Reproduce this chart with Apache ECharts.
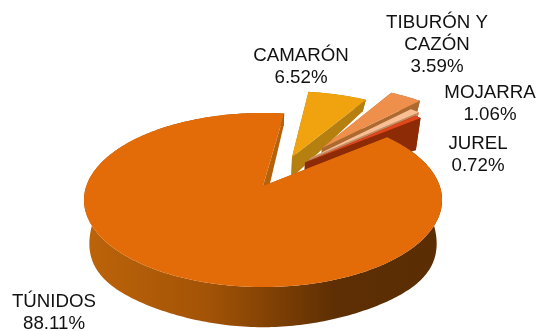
<!DOCTYPE html>
<html>
<head>
<meta charset="utf-8">
<style>
  html, body { margin: 0; padding: 0; background: #fff; }
  #chart { width: 539px; height: 331px; }
</style>
<script src="https://cdn.jsdelivr.net/npm/echarts@6/dist/echarts.min.js"></script>
</head>
<body>
<div id="chart"></div>
<script>
var labels = ['CAMARÓN', 'TIBURÓN Y\nCAZÓN', 'MOJARRA', 'JUREL', 'TÚNIDOS'];
var values = [6.52, 3.59, 1.06, 0.72, 88.11];

var topColors = ['#f0a30e', '#ee8f4c', '#f8bf94', '#e0471a', '#e36c09'];
var wallColors = ['#b5800f', '#ad6a30', '#c48a60', '#8c2b06', '#b5620c'];
// exploded offset of each slice, in unit-circle space
var shiftU = [0.174, 0.36, 0.28, 0.249, 0];
var shiftV = [0.362, 0.483, 0.345, 0.29, 0];
var wallExtra = [0, 0, 0, 10, 0];
var labelX = [301, 437, 490, 478, 54];
var labelY = [66.5, 44.5, 103.5, 155, 312.5];

var START_ANGLE = 8;
var apexX = 263, apexY = 186, radX = 176.7, radY = 84.8, persp = 0.161;

function project(u, v, bottom) {
  var den = 1 + persp * v;
  var x = radX * u / den;
  var h = radY * v / den;
  if (!bottom) {
    return [apexX + x, apexY - h];
  }
  // wall height: tallest at the sides and front, short at the back
  var side = x / radX;
  var depth = 27 - (h > 0 ? 0.2 : 0.13) * h + 14 * side * side * side * side;
  return [apexX + x * 0.97, apexY - h + depth];
}

function rimPoints(i, from, to, bottom) {
  var pts = [];
  var n = Math.ceil(Math.abs(to - from));
  for (var k = 0; k <= n; k++) {
    var a = (from + (to - from) * k / n) * Math.PI / 180;
    var p = project(Math.sin(a) + shiftU[i], Math.cos(a) + shiftV[i], bottom);
    if (bottom) p[1] += wallExtra[i];
    pts.push(p);
  }
  return pts;
}

function sliceAngles(i) {
  var sum = 0;
  for (var k = 0; k < i; k++) sum += values[k];
  return [START_ANGLE + sum * 3.6, START_ANGLE + (sum + values[i]) * 3.6];
}

function poly(points, fill) {
  return { type: 'polygon', shape: { points: points }, style: { fill: fill, stroke: null } };
}

function renderSlice(params, api) {
  var i = params.dataIndex;
  var ang = sliceAngles(i);
  var center = project(shiftU[i], shiftV[i], false);
  var centerB = project(shiftU[i], shiftV[i], true);
  var rimTop = rimPoints(i, ang[0], ang[1], false);
  var rimBot = rimPoints(i, ang[0], ang[1], true);
  var wall = wallColors[i];
  var outerFill = wall;
  if (i === 4) {
    outerFill = {
      type: 'linear', global: true, x: 83, y: 0, x2: 441, y2: 0,
      colorStops: [
        { offset: 0, color: '#bd640a' },
        { offset: 0.35, color: '#a35306' },
        { offset: 0.7, color: '#5e2f03' },
        { offset: 1, color: '#5a2d03' }
      ]
    };
  }
  var children = [];
  children.push(poly([center, rimTop[0], rimBot[0], centerB], wall));
  children.push(poly(rimTop.concat(rimBot.slice().reverse()), outerFill));
  children.push(poly([center, rimTop[rimTop.length - 1], rimBot[rimBot.length - 1], centerB], wall));
  children.push(poly([center].concat(rimTop), topColors[i]));
  children.push({
    type: 'text',
    style: {
      text: labels[i] + '\n' + values[i].toFixed(2) + '%',
      x: labelX[i],
      y: labelY[i],
      align: 'center',
      verticalAlign: 'middle',
      fontFamily: 'Liberation Sans',
      fontSize: 18.7,
      lineHeight: 22,
      fill: '#111'
    }
  });
  return { type: 'group', children: children };
}

var chart = echarts.init(document.getElementById('chart'), null, { renderer: 'canvas' });
chart.setOption({
  animation: false,
  series: [{
    type: 'custom',
    coordinateSystem: 'none',
    renderItem: renderSlice,
    data: values
  }]
});
</script>
</body>
</html>
